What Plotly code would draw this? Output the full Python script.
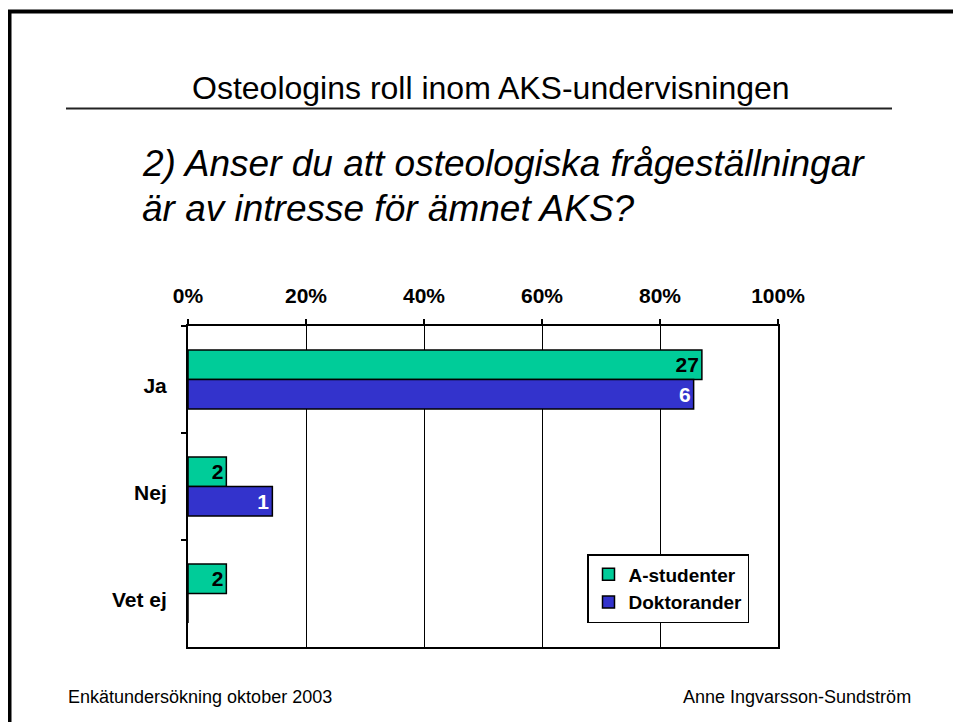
import plotly.graph_objects as go

# ---- data ----
categories = ["Ja", "Nej", "Vet ej"]
series_names = ["A-studenter", "Doktorander"]
a_share = [0.871, 0.065, 0.065]      # share of respondents
d_share = [0.857, 0.143, 0.0]
a_counts = ["27", "2", "2"]           # data labels (counts)
d_counts = ["6", "1", ""]
tick_vals = [0, 0.2, 0.4, 0.6, 0.8, 1.0]
tick_text = ["0%", "20%", "40%", "60%", "80%", "100%"]

title_text = "Osteologins roll inom AKS-undervisningen"
question_lines = ["2) Anser du att osteologiska frågeställningar",
                  "är av intresse för ämnet AKS?"]
footer_left = "Enkätundersökning oktober 2003"
footer_right = "Anne Ingvarsson-Sundström"

OFF = 8  # page body margin
W, H = 961 - OFF, 722 - OFF
FONT = "Arial, Liberation Sans, Helvetica, sans-serif"
GREEN = "#00CC99"
BLUE = "#3333CC"


def px(x):
    return (x - OFF) / W


def py(y):
    return 1 - (y - OFF) / H


fig = go.Figure()
fig.add_trace(go.Bar(
    y=categories, x=a_share, name=series_names[0], orientation="h",
    marker=dict(color=GREEN, line=dict(color="black", width=1.5)),
    text=a_counts, textposition="inside", insidetextanchor="end",
    constraintext="none",
    textfont=dict(family=FONT, size=21, color="black", weight="bold"),
    hoverinfo="skip",
))
fig.add_trace(go.Bar(
    y=categories, x=d_share, name=series_names[1], orientation="h",
    marker=dict(color=BLUE, line=dict(color="black", width=1.5)),
    text=d_counts, textposition="inside", insidetextanchor="end",
    constraintext="none",
    textfont=dict(family=FONT, size=21, color="white", weight="bold"),
    hoverinfo="skip",
))

fig.update_layout(
    template="none",
    width=W, height=H, autosize=False,
    margin=dict(l=0, r=0, t=0, b=0, pad=0, autoexpand=False),
    paper_bgcolor="white", plot_bgcolor="white",
    barmode="group", bargap=0.45, bargroupgap=0,
    font=dict(family=FONT, color="black"),
    showlegend=True,
    legend=dict(
        x=px(587), y=py(554), xanchor="left", yanchor="top",
        bgcolor="white", bordercolor="black", borderwidth=1.5,
        font=dict(family=FONT, size=19, color="black", weight="bold"),
        traceorder="normal", tracegroupgap=0, itemwidth=30,
    ),
    xaxis=dict(
        domain=[px(188), px(778)], range=[0, 1], side="top",
        tickvals=tick_vals, ticktext=tick_text,
        tickfont=dict(family=FONT, size=21, color="black", weight="bold"),
        showgrid=True, gridcolor="black", gridwidth=1,
        showline=True, linecolor="black", linewidth=2, mirror=True,
        ticks="outside", ticklen=5, tickwidth=1.5, tickcolor="black",
        ticklabelstandoff=8,
        zeroline=False, fixedrange=True, automargin=False,
    ),
    yaxis=dict(
        domain=[py(647), py(326)], autorange="reversed",
        type="category",
        tickfont=dict(family=FONT, size=21, color="black", weight="bold"),
        showgrid=False, zeroline=False,
        showline=True, linecolor="black", linewidth=2, mirror=True,
        ticks="outside", ticklen=5, tickwidth=1.5, tickcolor="black",
        tickson="boundaries", ticklabelstandoff=15, ticklabelshift=-6,
        fixedrange=True, automargin=False,
    ),
)

annotations = [
    dict(text=title_text, x=px(491), y=py(88), xanchor="center", yanchor="middle",
         font=dict(family=FONT, size=32, color="black")),
    dict(text="<i>" + question_lines[0] + "</i>", x=px(140), y=py(163),
         xanchor="left", yanchor="middle",
         font=dict(family=FONT, size=37, color="black")),
    dict(text="<i>" + question_lines[1] + "</i>", x=px(140), y=py(208),
         xanchor="left", yanchor="middle",
         font=dict(family=FONT, size=37, color="black")),
    dict(text=footer_left, x=px(66), y=py(697), xanchor="left", yanchor="middle",
         font=dict(family=FONT, size=18, color="black")),
    dict(text=footer_right, x=px(913), y=py(697), xanchor="right", yanchor="middle",
         font=dict(family=FONT, size=18, color="black")),
]
for a in annotations:
    a.update(xref="paper", yref="paper", showarrow=False)
fig.update_layout(annotations=annotations)

shapes = [
    # slide frame (left + top)
    dict(type="path", path=f"M {px(9.5)} 0 L {px(9.5)} {py(11.5)} L 1 {py(11.5)}",
         line=dict(color="black", width=4)),
    # title underline
    dict(type="line", x0=px(66), x1=px(892), y0=py(108.5), y1=py(108.5),
         line=dict(color="#222222", width=2)),
]
for s in shapes:
    s.update(xref="paper", yref="paper", layer="above")
fig.update_layout(shapes=shapes)

fig.write_html("out.html")
